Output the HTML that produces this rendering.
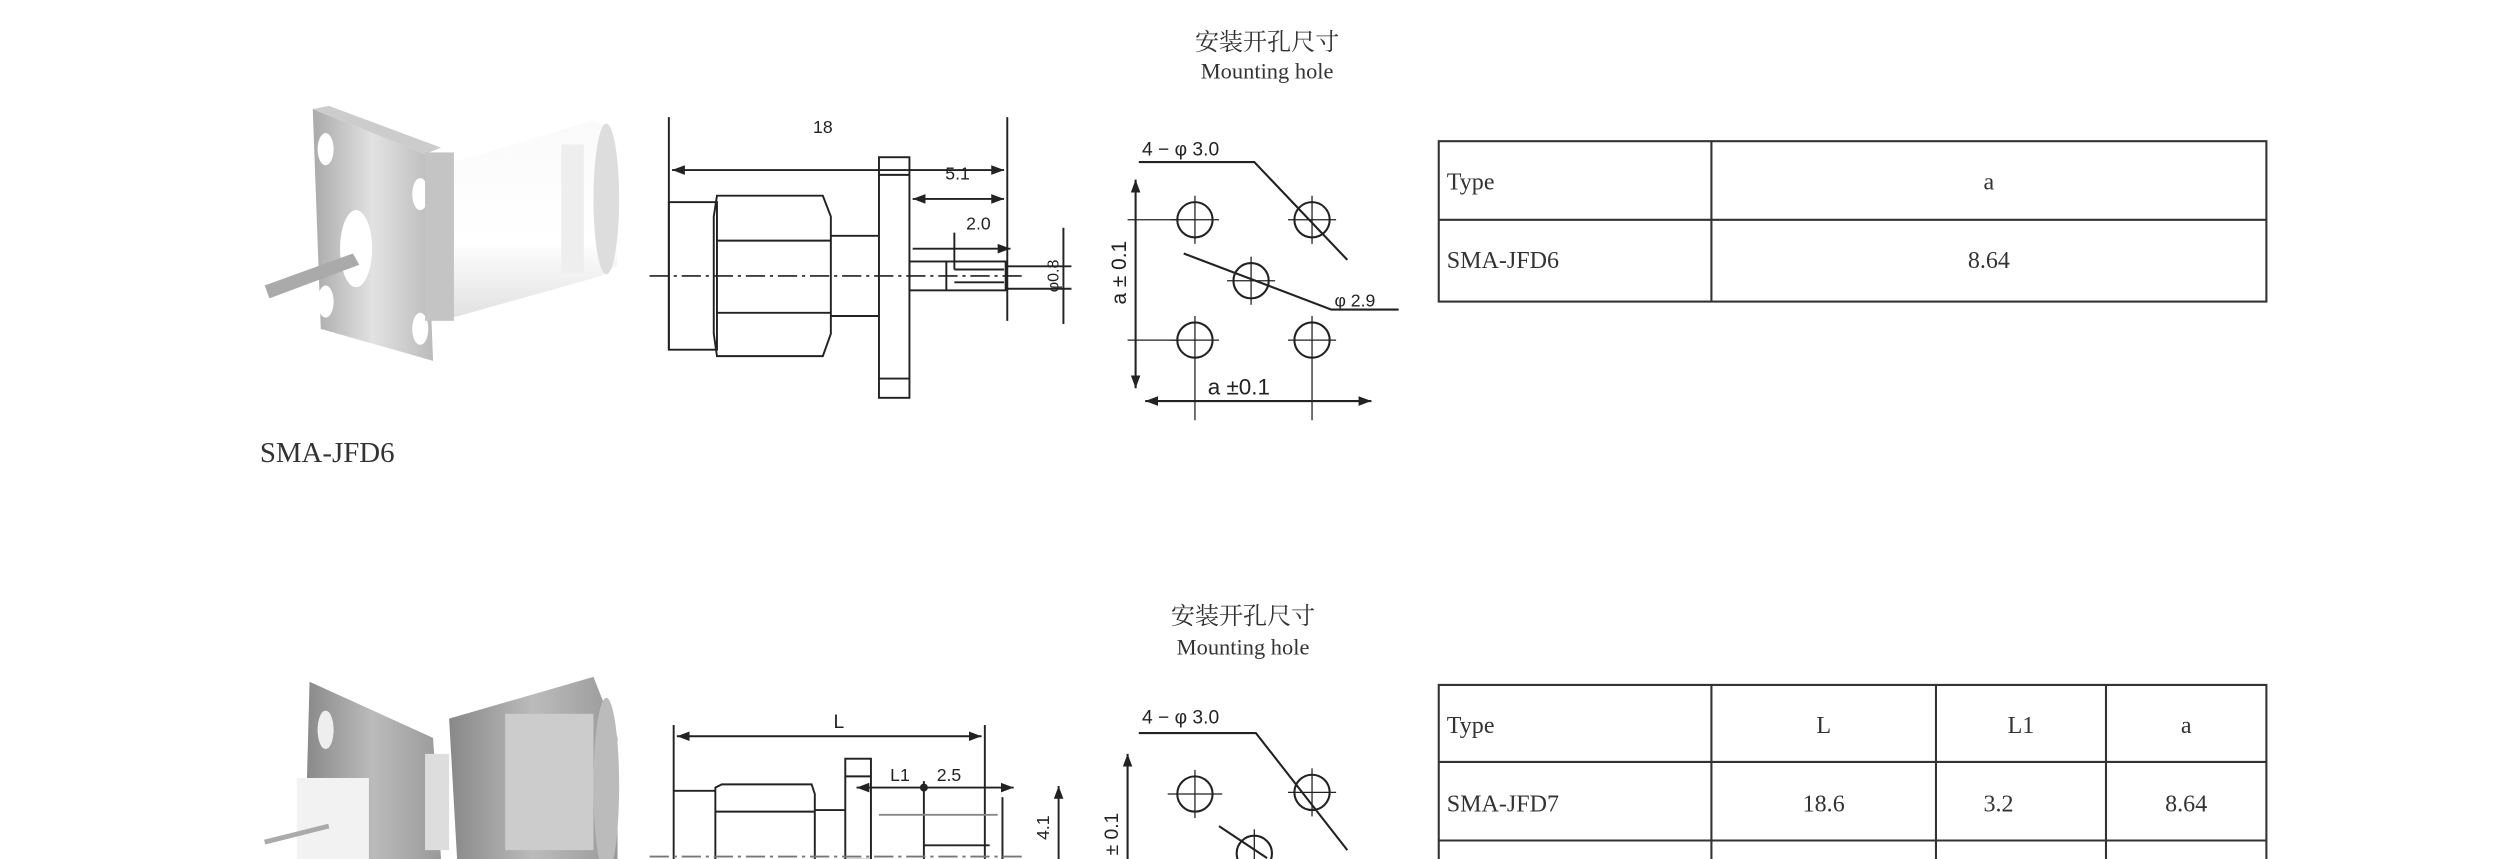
<!DOCTYPE html>
<html><head><meta charset="utf-8"><style>
html,body{margin:0;padding:0;background:#fff;}
svg{display:block;}
text{font-family:"Liberation Serif","Noto Serif CJK SC",serif;fill:#333;}
.s{font-family:"Liberation Sans",sans-serif;fill:#222;}
</style></head><body>
<svg width="2515" height="859" viewBox="0 0 1568 535.5" xmlns="http://www.w3.org/2000/svg">
<defs>
<linearGradient id="g1" x1="0" x2="1"><stop offset="0" stop-color="#aaa"/><stop offset=".5" stop-color="#e2e2e2"/><stop offset="1" stop-color="#bbb"/></linearGradient>
<linearGradient id="g2" x1="0" x2="0" y1="0" y2="1"><stop offset="0" stop-color="#fafafa"/><stop offset=".6" stop-color="#fff"/><stop offset="1" stop-color="#e0e0e0"/></linearGradient>
<linearGradient id="g3" x1="0" x2="1"><stop offset="0" stop-color="#888"/><stop offset=".5" stop-color="#bbb"/><stop offset="1" stop-color="#999"/></linearGradient>
<marker id="a" markerWidth="8" markerHeight="6" refX="8" refY="3" orient="auto-start-reverse" markerUnits="userSpaceOnUse"><path d="M0,0L8,3L0,6z" fill="#222"/></marker>
</defs>

<text x="790" y="31" font-size="15" text-anchor="middle">安装开孔尺寸</text>
<text x="790" y="49" font-size="14" text-anchor="middle">Mounting hole</text>

<!-- Photo 1 -->
<polygon points="270,105 370,75 380,80 385,165 375,172 275,200" fill="url(#g2)"/>
<ellipse cx="378" cy="124" rx="8" ry="47" fill="#ddd"/>
<rect x="350" y="90" width="14" height="80" fill="#eee"/>
<polygon points="195,68 265,96 270,225 200,205" fill="url(#g1)"/>
<polygon points="195,68 205,66 275,92 265,96" fill="#ccc"/>
<ellipse cx="203" cy="93" rx="5" ry="10" fill="#fff"/>
<ellipse cx="203" cy="188" rx="5" ry="10" fill="#fff"/>
<ellipse cx="262" cy="121" rx="5" ry="10" fill="#fff"/>
<ellipse cx="262" cy="205" rx="5" ry="10" fill="#fff"/>
<ellipse cx="222" cy="155" rx="10" ry="24" fill="#fff"/>
<rect x="265" y="95" width="18" height="105" fill="#c4c4c4"/>
<polygon points="165,178 220,158 224,165 168,186" fill="#aaa"/>
<text x="162" y="288" font-size="18">SMA-JFD6</text>

<!-- Drawing 1 -->
<g stroke="#222" fill="none" stroke-width="1.2">
<line x1="417" y1="73" x2="417" y2="218"/>
<line x1="628" y1="73" x2="628" y2="200"/>
<line x1="419" y1="106" x2="626" y2="106" marker-start="url(#a)" marker-end="url(#a)"/>
<rect x="417" y="126" width="30" height="92"/>
<path d="M447,122 L513,122 L518,135 L518,208 L513,222 L447,222 L445,208 L445,135 Z"/>
<line x1="447" y1="150" x2="518" y2="150"/>
<line x1="447" y1="195" x2="518" y2="195"/>
<line x1="518" y1="147" x2="548" y2="147"/>
<line x1="518" y1="197" x2="548" y2="197"/>
<rect x="548" y="98" width="19" height="150"/>
<line x1="548" y1="109" x2="567" y2="109"/>
<line x1="548" y1="236" x2="567" y2="236"/>
<rect x="567" y="163" width="60" height="18"/>
<line x1="590" y1="163" x2="590" y2="181"/>
<line x1="595" y1="168" x2="626" y2="168"/>
<line x1="595" y1="176" x2="626" y2="176"/>
<line x1="569" y1="124" x2="626" y2="124" marker-start="url(#a)" marker-end="url(#a)"/>
<line x1="595" y1="145" x2="595" y2="168"/>
<line x1="569" y1="155" x2="630" y2="155" marker-end="url(#a)"/>
<line x1="663" y1="142" x2="663" y2="202"/>
<line x1="628" y1="166" x2="668" y2="166"/>
<line x1="628" y1="180" x2="668" y2="180"/>
<line x1="405" y1="172" x2="640" y2="172" stroke-dasharray="12,3,2,3" stroke-width="1"/>
</g>
<text class="s" x="513" y="83" font-size="11" text-anchor="middle">18</text>
<text class="s" x="597" y="112" font-size="11" text-anchor="middle">5.1</text>
<text class="s" x="610" y="143" font-size="11" text-anchor="middle">2.0</text>
<text class="s" x="0" y="0" font-size="10" transform="translate(660,172) rotate(-90)" text-anchor="middle">φ0.8</text>

<!-- Mounting hole 1 -->
<g stroke="#222" fill="none" stroke-width="1.3">
<circle cx="745" cy="137" r="11"/><circle cx="818" cy="137" r="11"/>
<circle cx="780" cy="175" r="11"/><circle cx="745" cy="212" r="11"/><circle cx="818" cy="212" r="11"/>
<g stroke-width=".8">
<line x1="730" y1="137" x2="760" y2="137"/><line x1="745" y1="122" x2="745" y2="152"/>
<line x1="803" y1="137" x2="833" y2="137"/><line x1="818" y1="122" x2="818" y2="152"/>
<line x1="765" y1="175" x2="795" y2="175"/><line x1="780" y1="160" x2="780" y2="190"/>
<line x1="730" y1="212" x2="760" y2="212"/><line x1="745" y1="197" x2="745" y2="262"/>
<line x1="803" y1="212" x2="833" y2="212"/><line x1="818" y1="197" x2="818" y2="262"/>
<line x1="703" y1="137" x2="735" y2="137"/><line x1="703" y1="212" x2="735" y2="212"/>
</g>
<polyline points="710,101 782,101 840,162"/>
<polyline points="738,158 830,193 872,193"/>
<line x1="708" y1="112" x2="708" y2="242" marker-start="url(#a)" marker-end="url(#a)"/>
<line x1="714" y1="250" x2="855" y2="250" marker-start="url(#a)" marker-end="url(#a)"/>
</g>
<text class="s" x="712" y="97" font-size="12">4 − φ  3.0</text>
<text class="s" x="832" y="191" font-size="11">φ  2.9</text>
<text class="s" x="753" y="246" font-size="14">a ±0.1</text>
<text class="s" x="0" y="0" font-size="13" transform="translate(702,170) rotate(-90)" text-anchor="middle">a ± 0.1</text>

<!-- Table 1 -->
<g stroke="#333" stroke-width="1.3" fill="none">
<rect x="897" y="88" width="516" height="100"/>
<line x1="897" y1="137" x2="1413" y2="137"/>
<line x1="1067" y1="88" x2="1067" y2="188"/>
</g>
<text x="902" y="118" font-size="15">Type</text>
<text x="1240" y="118" font-size="15" text-anchor="middle">a</text>
<text x="902" y="167" font-size="15">SMA-JFD6</text>
<text x="1240" y="167" font-size="15" text-anchor="middle">8.64</text>

<text x="775" y="389" font-size="15" text-anchor="middle">安装开孔尺寸</text>
<text x="775" y="408" font-size="14" text-anchor="middle">Mounting hole</text>

<!-- Photo 2 -->
<polygon points="193,425 270,460 275,536 190,536" fill="url(#g3)"/>
<ellipse cx="203" cy="455" rx="5" ry="12" fill="#eee"/>
<ellipse cx="210" cy="505" rx="6" ry="14" fill="#eee"/>
<polygon points="280,448 370,422 385,460 385,536 285,536" fill="url(#g3)"/>
<rect x="315" y="445" width="55" height="85" fill="#ccc"/>
<ellipse cx="378" cy="490" rx="8" ry="55" fill="#bbb"/>
<rect x="265" y="470" width="15" height="60" fill="#ddd"/>
<rect x="185" y="485" width="45" height="51" fill="#f2f2f2"/>
<line x1="165" y1="525" x2="205" y2="515" stroke="#aaa" stroke-width="3"/>

<!-- Drawing 2 -->
<g stroke="#222" fill="none" stroke-width="1.2">
<line x1="420" y1="452" x2="420" y2="536"/>
<line x1="614" y1="452" x2="614" y2="536"/>
<line x1="422" y1="459" x2="612" y2="459" marker-start="url(#a)" marker-end="url(#a)"/>
<line x1="420" y1="493" x2="446" y2="493"/>
<path d="M446,536 L446,491 L450,489 L506,489 L508,495 L508,536"/>
<line x1="446" y1="506" x2="508" y2="506"/>
<line x1="508" y1="505" x2="527" y2="505"/>
<rect x="527" y="473" width="16" height="63"/>
<line x1="527" y1="484" x2="543" y2="484"/>
<line x1="534" y1="491" x2="632" y2="491" marker-start="url(#a)" marker-end="url(#a)"/>
<line x1="576" y1="487" x2="576" y2="536"/>
<line x1="548" y1="508" x2="622" y2="508" stroke="#888"/>
<line x1="576" y1="527" x2="617" y2="527"/>
<line x1="625" y1="497" x2="625" y2="536"/>
<line x1="660" y1="490" x2="660" y2="536" marker-start="url(#a)"/>
<line x1="405" y1="534" x2="640" y2="534" stroke-dasharray="12,3,2,3" stroke="#777"/>
</g>
<circle cx="576" cy="491" r="2.5" fill="#222"/>
<text class="s" x="523" y="454" font-size="12" text-anchor="middle">L</text>
<text class="s" x="555" y="487" font-size="11">L1</text>
<text class="s" x="584" y="487" font-size="11">2.5</text>
<text class="s" x="0" y="0" font-size="11" transform="translate(654,516) rotate(-90)" text-anchor="middle">4.1</text>

<!-- Mounting hole 2 -->
<g stroke="#222" fill="none" stroke-width="1.3">
<circle cx="745" cy="495" r="11"/><circle cx="818" cy="494" r="11"/><circle cx="782" cy="532" r="11"/>
<g stroke-width=".8">
<line x1="728" y1="495" x2="762" y2="495"/><line x1="745" y1="480" x2="745" y2="510"/>
<line x1="803" y1="494" x2="833" y2="494"/><line x1="818" y1="479" x2="818" y2="509"/>
<line x1="782" y1="517" x2="782" y2="536"/>
</g>
<polyline points="710,457 783,457 840,530"/>
<line x1="760" y1="515" x2="790" y2="535"/>
<line x1="703" y1="470" x2="703" y2="536" marker-start="url(#a)"/>
</g>
<text class="s" x="712" y="451" font-size="12">4 − φ  3.0</text>
<text class="s" x="0" y="0" font-size="12" transform="translate(697,520) rotate(-90)" text-anchor="middle">± 0.1</text>

<!-- Table 2 -->
<g stroke="#333" stroke-width="1.3" fill="none">
<polyline points="897,540 897,427 1413,427 1413,540"/>
<line x1="897" y1="475" x2="1413" y2="475"/>
<line x1="897" y1="524" x2="1413" y2="524"/>
<line x1="1067" y1="427" x2="1067" y2="540"/>
<line x1="1207" y1="427" x2="1207" y2="540"/>
<line x1="1313" y1="427" x2="1313" y2="540"/>
</g>
<text x="902" y="457" font-size="15">Type</text>
<text x="1137" y="457" font-size="15" text-anchor="middle">L</text>
<text x="1260" y="457" font-size="15" text-anchor="middle">L1</text>
<text x="1363" y="457" font-size="15" text-anchor="middle">a</text>
<text x="902" y="506" font-size="15">SMA-JFD7</text>
<text x="1137" y="506" font-size="15" text-anchor="middle">18.6</text>
<text x="1246" y="506" font-size="15" text-anchor="middle">3.2</text>
<text x="1363" y="506" font-size="15" text-anchor="middle">8.64</text>
</svg>
</body></html>
